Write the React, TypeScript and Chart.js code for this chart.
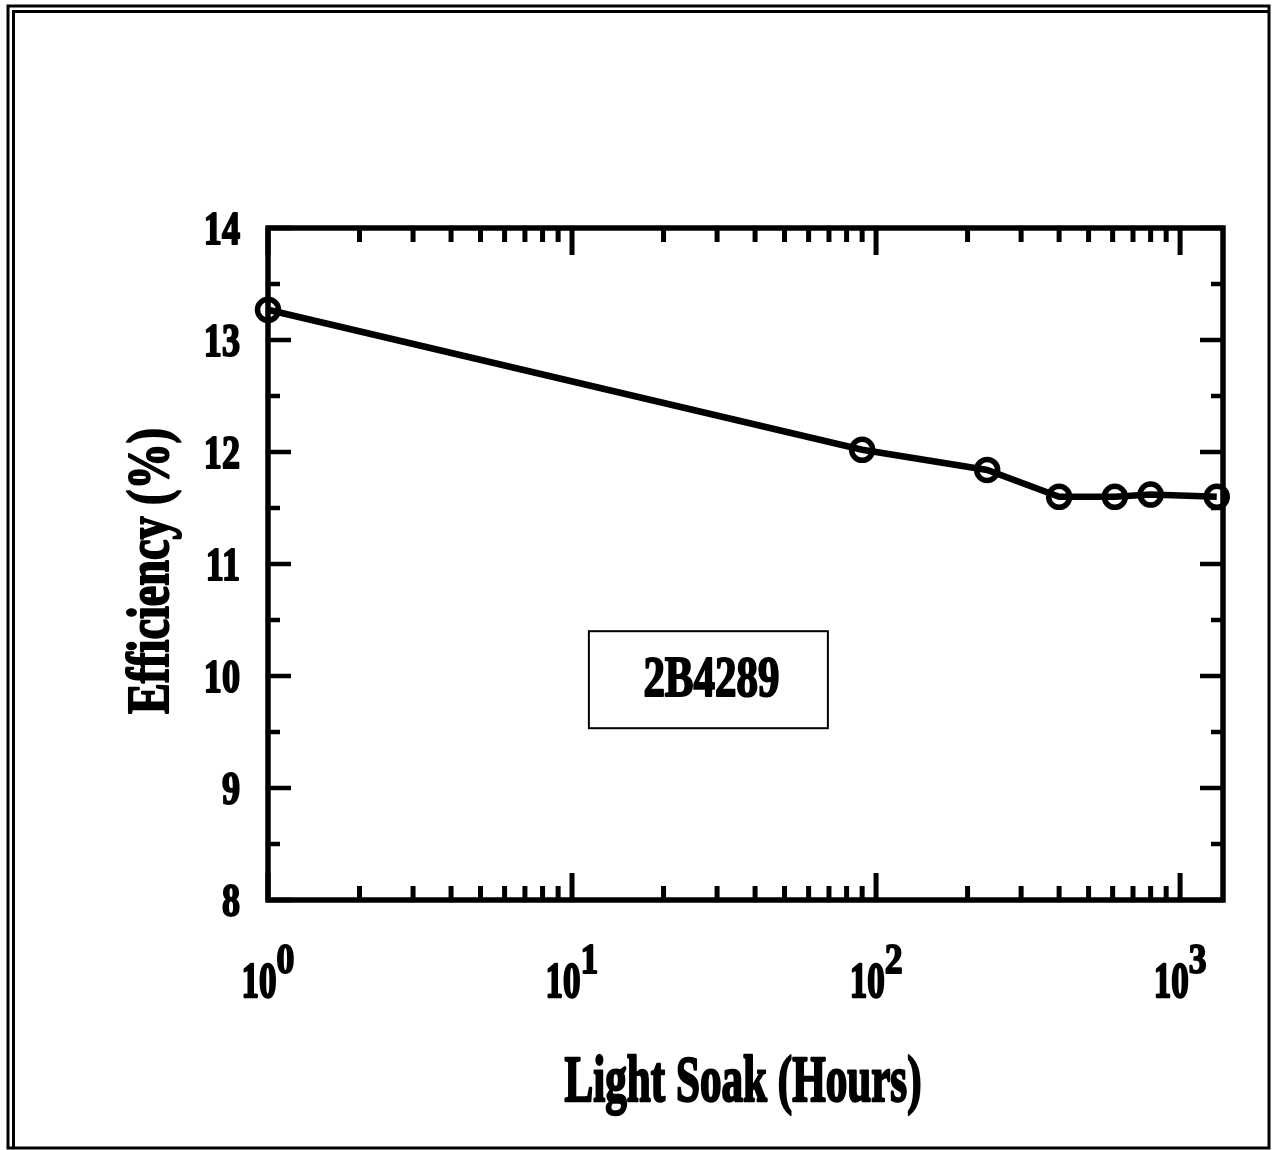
import React, { useEffect, useRef } from "react";
import { Chart, registerables } from "chart.js";

Chart.register(...registerables);

// ---- data ----
const hours = [1, 90, 232, 400, 610, 800, 1320];
const efficiency = [13.27, 12.02, 11.84, 11.6, 11.6, 11.62, 11.6];
const yMajorTicks = [8, 9, 10, 11, 12, 13, 14];
const xDecadeExponents = [0, 1, 2, 3];
const xAxisTitle = "Light Soak (Hours)";
const yAxisTitle = "Efficiency (%)";
const sampleLabel = "2B4289";

const FONT = '"Liberation Serif", "Times New Roman", serif';

function drawGlyphs(ctx: CanvasRenderingContext2D, text: string, sx: number) {
  ctx.fillStyle = "#000";
  ctx.strokeStyle = "#000";
  ctx.lineJoin = "round";
  ctx.lineWidth = 1.6 / sx;
  ctx.fillText(text, 0, 0);
  ctx.strokeText(text, 0, 0);
}

function fitText(
  ctx: CanvasRenderingContext2D,
  text: string,
  x: number,
  y: number,
  size: number,
  width: number,
  align: CanvasTextAlign,
  baseline: CanvasTextBaseline
) {
  ctx.save();
  ctx.font = `bold ${size}px ${FONT}`;
  const w = ctx.measureText(text).width;
  const sx = width / w;
  ctx.translate(x, y);
  ctx.scale(sx, 1);
  ctx.textAlign = align;
  ctx.textBaseline = baseline;
  drawGlyphs(ctx, text, sx);
  ctx.restore();
}

function scaledText(
  ctx: CanvasRenderingContext2D,
  text: string,
  x: number,
  y: number,
  size: number,
  sx: number,
  align: CanvasTextAlign,
  baseline: CanvasTextBaseline
) {
  ctx.save();
  ctx.font = `bold ${size}px ${FONT}`;
  ctx.translate(x, y);
  ctx.scale(sx, 1);
  ctx.textAlign = align;
  ctx.textBaseline = baseline;
  drawGlyphs(ctx, text, sx);
  ctx.restore();
}

const decorPlugin = {
  id: "decor",
  beforeDraw(chart: any) {
    const ctx: CanvasRenderingContext2D = chart.ctx;
    ctx.save();
    ctx.fillStyle = "#fff";
    ctx.fillRect(0, 0, chart.width, chart.height);
    // outer double frame
    ctx.strokeStyle = "#000";
    ctx.lineWidth = 3;
    ctx.strokeRect(8, 6, 1261, 1142);
    ctx.beginPath();
    ctx.moveTo(13.5, 1148);
    ctx.lineTo(13.5, 11.5);
    ctx.lineTo(1269, 11.5);
    ctx.stroke();
    ctx.restore();
  },
  beforeDatasetsDraw(chart: any) {
    const ctx: CanvasRenderingContext2D = chart.ctx;
    const { left, right, top, bottom } = chart.chartArea;
    const xs = chart.scales.x;
    const ys = chart.scales.y;
    ctx.save();
    ctx.strokeStyle = "#000";
    ctx.lineCap = "butt";

    // ticks on x (bottom + top, inward)
    ctx.lineWidth = 5;
    const xMax = xs.max;
    xDecadeExponents.forEach((d) => {
      for (let m = 1; m <= 9; m++) {
        const v = m * Math.pow(10, d);
        if (v < xs.min || v > xMax) continue;
        const px = xs.getPixelForValue(v);
        const len = m === 1 ? 27 : 14;
        ctx.beginPath();
        ctx.moveTo(px, bottom);
        ctx.lineTo(px, bottom - len);
        ctx.moveTo(px, top);
        ctx.lineTo(px, top + len);
        ctx.stroke();
      }
    });
    // ticks on y (left + right, inward)
    ctx.lineWidth = 4.5;
    for (let i = 0; i < yMajorTicks.length; i++) {
      const v = yMajorTicks[i];
      const py = ys.getPixelForValue(v);
      ctx.beginPath();
      ctx.moveTo(left, py);
      ctx.lineTo(left + 23, py);
      ctx.moveTo(right, py);
      ctx.lineTo(right - 23, py);
      ctx.stroke();
      if (i < yMajorTicks.length - 1) {
        const pm = ys.getPixelForValue(v + 0.5);
        ctx.beginPath();
        ctx.moveTo(left, pm);
        ctx.lineTo(left + 12, pm);
        ctx.moveTo(right, pm);
        ctx.lineTo(right - 12, pm);
        ctx.stroke();
      }
    }

    // plot frame
    ctx.lineWidth = 5.5;
    ctx.strokeRect(left, top, right - left, bottom - top);

    // y tick labels
    yMajorTicks.forEach((v) => {
      const py = ys.getPixelForValue(v);
      scaledText(ctx, String(v), 240, py + 16, 47, 0.77, "right", "alphabetic");
    });

    // x tick labels 10^n
    xDecadeExponents.forEach((d) => {
      const px = xs.getPixelForValue(Math.pow(10, d));
      ctx.save();
      ctx.font = `bold 50px ${FONT}`;
      const baseW = ctx.measureText("10").width * 0.7;
      ctx.font = `bold 42px ${FONT}`;
      const supW = ctx.measureText(String(d)).width * 0.85;
      ctx.restore();
      const start = px - (baseW + supW) / 2;
      scaledText(ctx, "10", start, 997, 50, 0.7, "left", "alphabetic");
      scaledText(ctx, String(d), start + baseW, 973, 42, 0.85, "left", "alphabetic");
    });

    // axis titles
    fitText(ctx, xAxisTitle, 743, 1101, 66, 357, "center", "alphabetic");
    ctx.save();
    ctx.translate(168, 571);
    ctx.rotate(-Math.PI / 2);
    fitText(ctx, yAxisTitle, 0, 0, 60, 286, "center", "alphabetic");
    ctx.restore();

    // sample label box
    const bx = left + (right - left) * 0.336;
    const by = top + (bottom - top) * 0.60;
    const bw = 239;
    const bh = 97;
    ctx.lineWidth = 2;
    ctx.strokeRect(bx, by, bw, bh);
    fitText(ctx, sampleLabel, bx + bw / 2 + 3, by + 65, 56, 136, "center", "alphabetic");

    ctx.restore();
  },
};

export default function App() {
  const ref = useRef<HTMLCanvasElement | null>(null);
  useEffect(() => {
    if (!ref.current) return;
    const chart = new Chart(ref.current, {
      type: "line",
      data: {
        datasets: [
          {
            data: hours.map((h, i) => ({ x: h, y: efficiency[i] })),
            borderColor: "#000",
            borderWidth: 6.5,
            pointRadius: 10.5,
            pointBorderWidth: 5.5,
            pointBorderColor: "#000",
            pointBackgroundColor: "rgba(0,0,0,0)",
            pointStyle: "circle",
            tension: 0,
            clip: false as any,
          },
        ],
      },
      options: {
        responsive: false,
        maintainAspectRatio: false,
        animation: false,
        layout: { padding: { left: 268, top: 228, right: 50, bottom: 250 } },
        plugins: { legend: { display: false }, tooltip: { enabled: false } },
        scales: {
          x: { type: "logarithmic", min: 1, max: 1384, display: false },
          y: { type: "linear", min: 8, max: 14, display: false },
        },
      },
      plugins: [decorPlugin],
    });
    return () => chart.destroy();
  }, []);
  return (
    <div style={{ position: "absolute", left: 0, top: 0, width: 1273, height: 1150 }}>
      <canvas ref={ref} width={1273} height={1150} style={{ display: "block" }} />
    </div>
  );
}
